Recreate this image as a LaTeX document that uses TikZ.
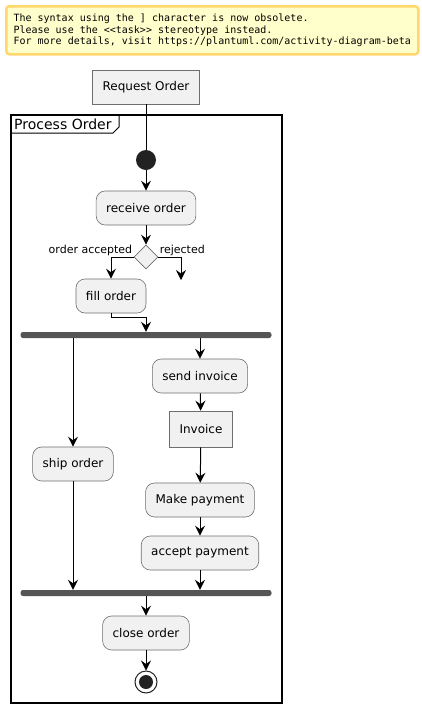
\documentclass[tikz,border=0pt]{standalone}
\usepackage{fontspec}
\setmainfont{DejaVu Sans}
\setmonofont{DejaVu Sans Mono}
\usetikzlibrary{shapes,shapes.geometric,arrows,arrows.meta,calc}
\definecolor{actfill}{HTML}{F1F1F1}
\definecolor{actborder}{HTML}{6E6E6E}
\definecolor{barfill}{HTML}{555555}
\definecolor{notefill}{HTML}{FFFFCC}
\definecolor{noteborder}{HTML}{FFD76E}
\definecolor{dot}{HTML}{222222}
\tikzstyle{line} = [draw, line width=1pt, -{Stealth[length=10pt,width=10pt,inset=3.5pt]}]
\tikzstyle{activity} = [draw=actborder, fill=actfill, rectangle, rounded corners=9pt, text centered, minimum height=34pt, inner xsep=10pt, line width=0.6pt, font=\fontsize{12}{14}\selectfont]
\tikzstyle{taskbox} = [draw=actborder, fill=actfill, rectangle, text centered, minimum height=34pt, inner xsep=10pt, line width=0.6pt, font=\fontsize{12}{14}\selectfont]
\tikzstyle{decision} = [draw=actborder, fill=actfill, diamond, minimum size=24pt, inner sep=0pt, line width=0.6pt]
\tikzstyle{bar} = [fill=barfill, rectangle, rounded corners=2.5pt, minimum height=6pt, minimum width=251pt, inner sep=0pt]
\tikzstyle{guard} = [inner sep=1pt, font=\fontsize{11}{13}\selectfont]

\begin{document}
\begin{tikzpicture}[x=1pt, y=-1pt]
        \useasboundingbox (0,0) rectangle (422,713);
        % warning note
        \node[draw=noteborder, fill=notefill, line width=2.5pt, rounded corners=3pt, minimum width=412pt, minimum height=48pt, anchor=north west, align=left, inner xsep=4pt, font=\ttfamily\fontsize{10}{11.5}\selectfont] (note) at (5,5) {The syntax using the ] character is now obsolete.\\Please use the <{}<task>{}> stereotype instead.\\For more details, visit https://plantuml.com/activity-diagram-beta};
        % partition frame
        \draw[line width=1.5pt] (11,115) rectangle (282,703);
        \draw[line width=1pt] (11,133) -- (113,133) -- (119,127) -- (119,115);
        \node[anchor=west, inner sep=0pt, font=\fontsize{14}{16}\selectfont] (part) at (14,124) {Process Order};
        % nodes
        \node[taskbox] (req) at (146,87) {Request Order};
        \node[circle, fill=dot, minimum size=20pt, inner sep=0pt] (start) at (146,160) {};
        \node[activity] (recv) at (146,208) {receive order};
        \node[decision] (dec) at (146,257) {};
        \node[activity] (fill) at (111,296) {fill order};
        \coordinate (rej) at (181,280);
        \node[bar] (fork) at (146,335) {};
        \node[activity] (send) at (200,376) {send invoice};
        \node[taskbox, minimum height=36pt] (inv) at (201,429) {Invoice};
        \node[activity] (pay) at (200,500) {Make payment};
        \node[activity] (acc) at (200,553) {accept payment};
        \node[activity] (ship) at (73,464) {ship order};
        \node[bar] (join) at (146,593) {};
        \node[activity] (close) at (146,633) {close order};
        \node[circle, draw=dot, fill=white, line width=1pt, minimum size=22pt, inner sep=0pt] (stop) at (146,682) {};
        \node[circle, fill=dot, minimum size=14pt, inner sep=0pt] (stopdot) at (stop) {};
        \coordinate (fillout) at ($(fill.south)+(0,4)$);
        % connectors
        \draw[line width=1pt] (req) -- (start);
        \path[line] (start) -- (recv);
        \path[line] (recv) -- (dec);
        \path[line] (dec.west) -| node[guard, at start, anchor=south east] {order accepted} (fill);
        \path[line] (dec.east) -| node[guard, at start, anchor=south west] {rejected} (rej);
        \draw[line width=1pt] (fill) -- (fillout);
        \path[line] (fillout) -| (fork);
        \path[line] (ship |- fork.south) -- (ship);
        \path[line] (send |- fork.south) -- (send);
        \path[line] (send) -- (inv);
        \path[line] (inv) -- (pay);
        \path[line] (pay) -- (acc);
        \path[line] (ship) -- (ship |- join.north);
        \path[line] (acc) -- (acc |- join.north);
        \path[line] (join) -- (close);
        \path[line] (close) -- (stop);
    \end{tikzpicture}
\end{document}
